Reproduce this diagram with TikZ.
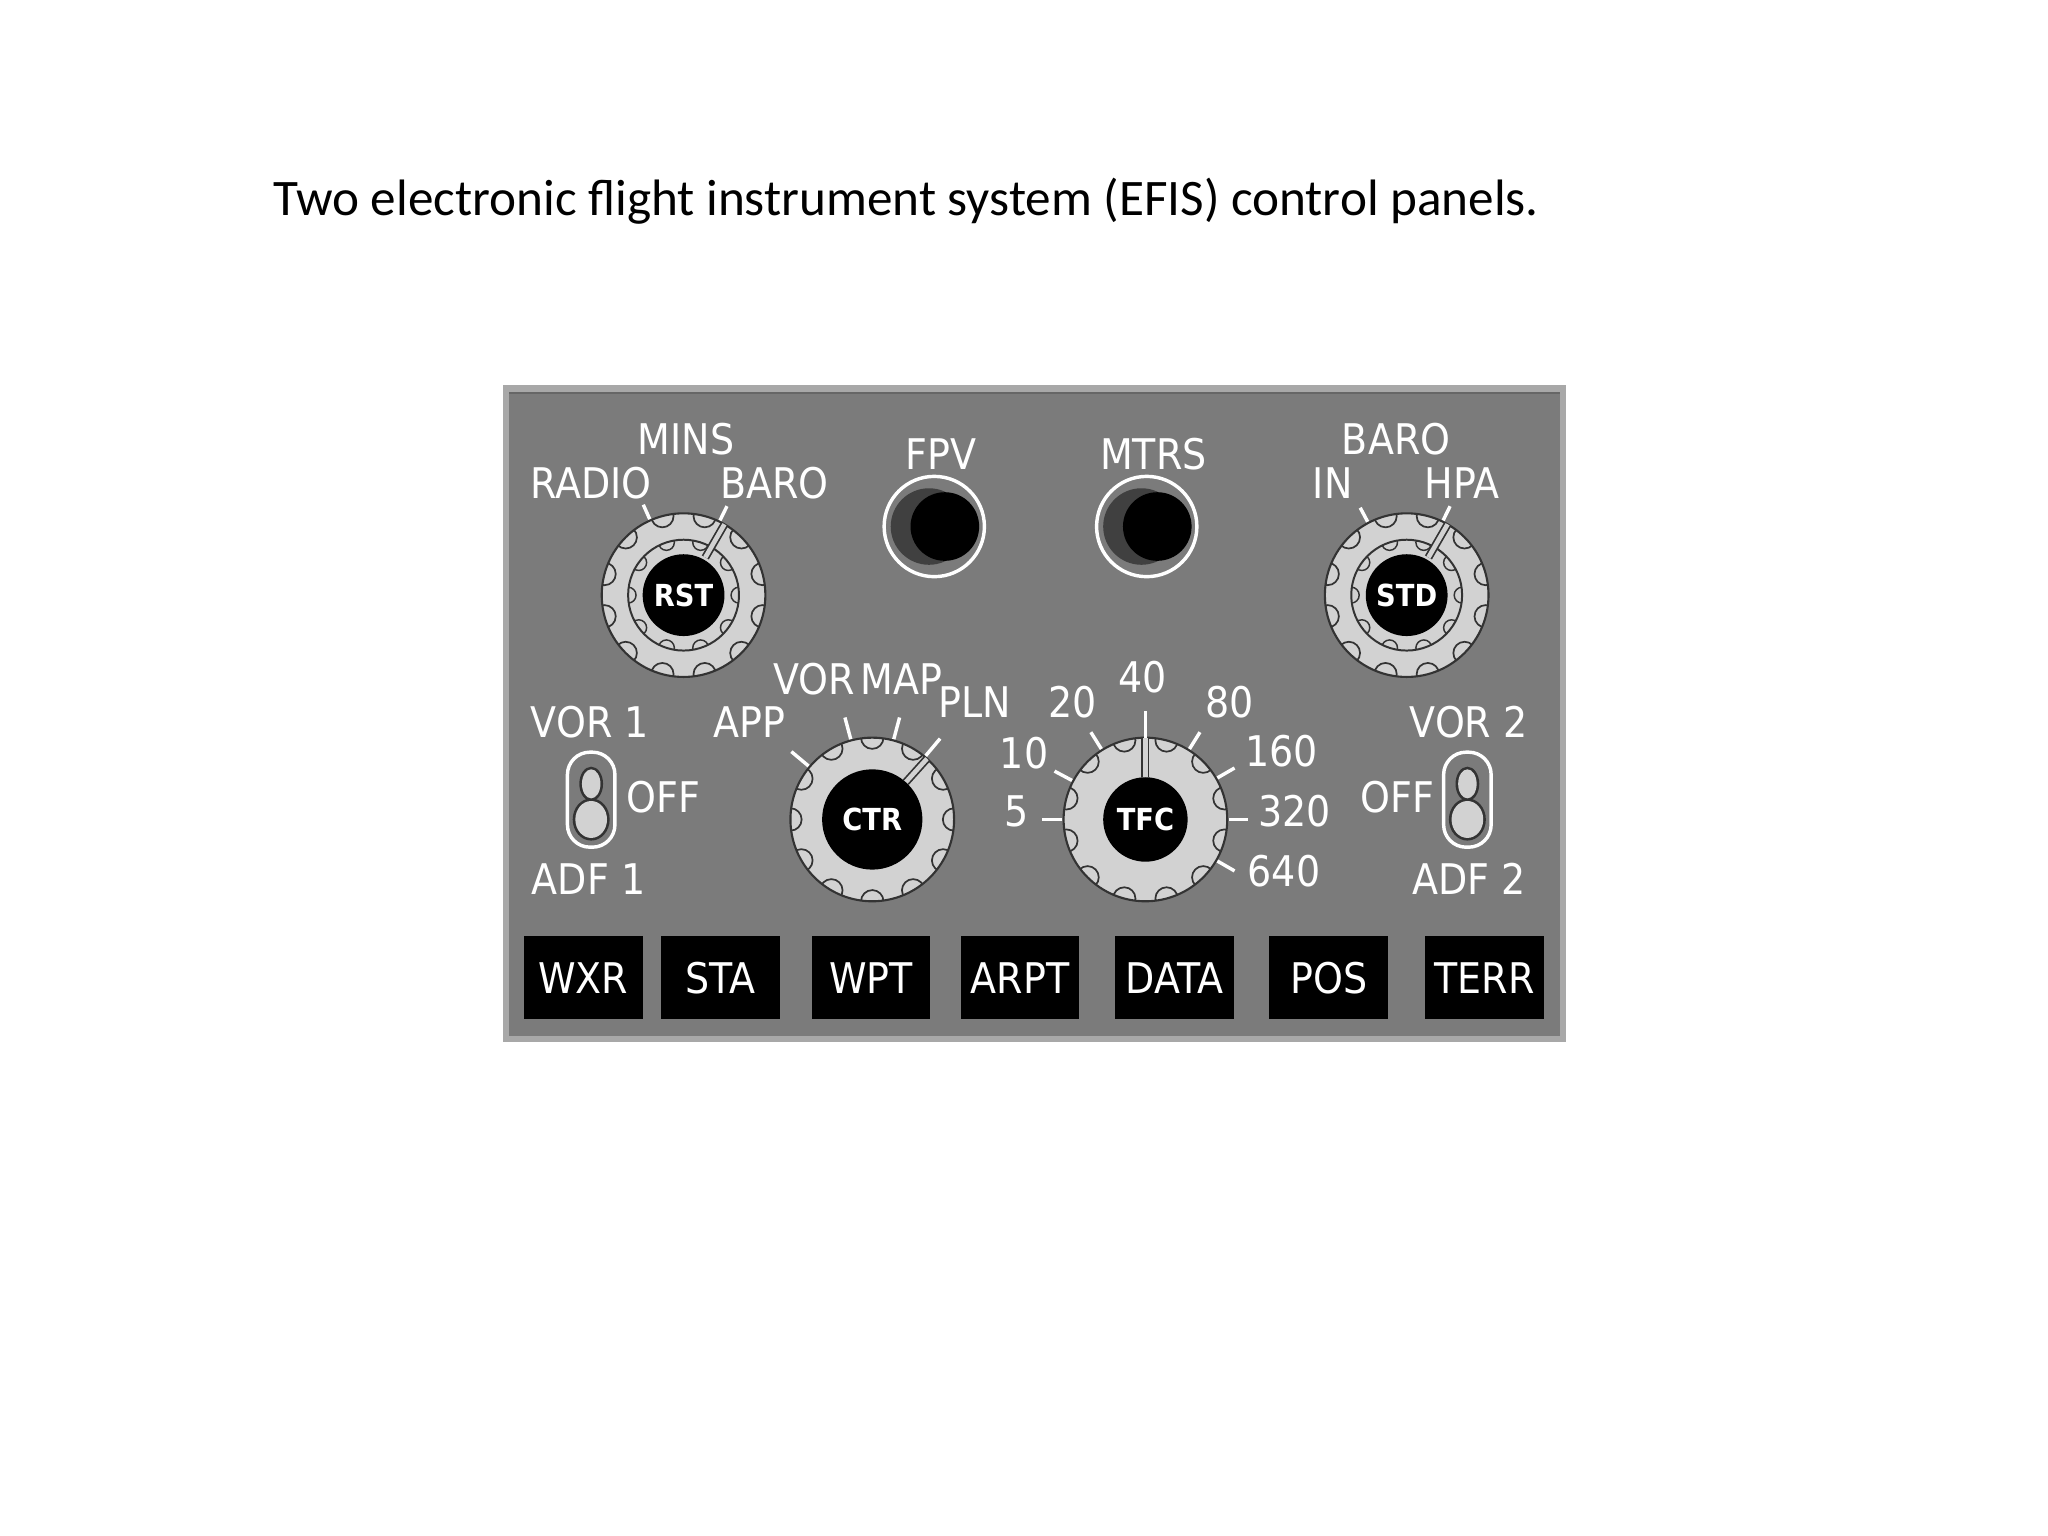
\documentclass[tikz,border=0pt]{standalone}
\usepackage{fontspec}
\setmainfont{Carlito}
\newfontfamily\din{DejaVu Sans Condensed}
\usetikzlibrary{calc}
\definecolor{panel}{HTML}{7B7B7B}
\definecolor{rim}{HTML}{A8A8A8}
\definecolor{knobc}{HTML}{D2D2D2}
\definecolor{edge}{HTML}{333333}
\tikzset{
 lbl/.style={text=white,font=\din\fontsize{32}{33}\selectfont,inner sep=0},
 ticky/.style={white,line width=2.6pt},
 btn/.style={fill=black,minimum width=90pt,minimum height=63pt,inner sep=0,text=white,font=\din\fontsize{32}{33}\selectfont},
 knobface/.style={circle,fill=knobc,draw=edge,line width=1.6pt,inner sep=0},
 knobcap/.style={circle,fill=black,inner sep=0,text=white,font=\din\bfseries\fontsize{23}{24}\selectfont},
 notch/.style={edge,line width=1.3pt},
 pointer/.style={edge,line width=1.3pt,double=knobc,double distance=3.5pt},
 toggle/.style={draw=white,line width=2.6pt,rounded corners=17pt}
}
\newcommand\drawknob[6]{% name,x,y,R,notch angles,cap radius
 \node[knobface,minimum size={2*#4}] (#1) at (#2,#3) {};
 \begin{scope}
  \clip (#2,#3) circle (#4);
  \foreach \a in {#5} \draw[notch] ([shift={(#2,#3)}]\a:#4) circle (8.5);
 \end{scope}
}
\begin{document}
\begin{tikzpicture}[x=1pt,y=1pt]
\useasboundingbox (0,0) rectangle (1552,-1164);
\fill[white] (0,0) rectangle (1552,-1164);
\node[anchor=base west,inner sep=0,font=\fontsize{38.8}{44}\selectfont] (title) at (207,-163) {Two electronic flight instrument system (EFIS) control panels.};
% panel
\fill[rim] (381,-292) rectangle (1187,-790);
\fill[panel] (386,-297) rectangle (1182,-785);
\draw[black!60,line width=1.5pt] (386,-298) -- (1182,-298);
% ---- RST knob
\drawknob{rstk}{518}{-451}{62}{15,45,75,105,135,165,195,225,255,285,315,345}{31}
\draw[edge,line width=1.5pt] (518,-451) circle (42);
\begin{scope}
 \clip (518,-451) circle (42);
 \foreach \a in {0,36,...,324} \draw[notch,line width=1.1pt] ([shift={(518,-451)}]\a:42) circle (6);
\end{scope}
\draw[pointer] ([shift={(518,-451)}]60:33) -- ([shift={(518,-451)}]60:62);
\node[knobcap,minimum size=62pt] (rst) at (518,-451) {RST};
\draw[ticky] ([shift={(518,-451)}]114:63) -- ([shift={(518,-451)}]114:75);
\draw[ticky] ([shift={(518,-451)}]64:63) -- ([shift={(518,-451)}]64:75);
\node[lbl] (mins) at (520,-333) {MINS};
\node[lbl] (radio) at (448,-366) {RADIO};
\node[lbl] (baro1) at (587,-366) {BARO};
% ---- STD knob
\drawknob{stdk}{1066}{-451}{62}{15,45,75,105,135,165,195,225,255,285,315,345}{31}
\draw[edge,line width=1.5pt] (1066,-451) circle (42);
\begin{scope}
 \clip (1066,-451) circle (42);
 \foreach \a in {0,36,...,324} \draw[notch,line width=1.1pt] ([shift={(1066,-451)}]\a:42) circle (6);
\end{scope}
\draw[pointer] ([shift={(1066,-451)}]60:33) -- ([shift={(1066,-451)}]60:62);
\node[knobcap,minimum size=62pt] (std) at (1066,-451) {STD};
\draw[ticky] ([shift={(1066,-451)}]118:63) -- ([shift={(1066,-451)}]118:75);
\draw[ticky] ([shift={(1066,-451)}]64:63) -- ([shift={(1066,-451)}]64:75);
\node[lbl] (baro2) at (1058,-333) {BARO};
\node[lbl] (in) at (1010,-366) {IN};
\node[lbl] (hpa) at (1108,-366) {HPA};
% ---- FPV / MTRS
\node[circle,draw=white,line width=2.6pt,minimum size=76pt,inner sep=0] (fpvring) at (708,-399) {};
\fill[black!75] (704,-399) circle (29);
\node[circle,fill=black,minimum size=52pt,inner sep=0] (fpvbtn) at (716,-399) {};
\node[lbl] (fpv) at (713,-344) {FPV};
\node[circle,draw=white,line width=2.6pt,minimum size=76pt,inner sep=0] (mtrsring) at (869,-399) {};
\fill[black!75] (865,-399) circle (29);
\node[circle,fill=black,minimum size=52pt,inner sep=0] (mtrsbtn) at (877,-399) {};
\node[lbl] (mtrs) at (874,-344) {MTRS};
% ---- CTR knob
\drawknob{ctrk}{661}{-621}{62}{0,30,60,90,120,150,180,210,240,270,300,330}{38}
\draw[pointer] ([shift={(661,-621)}]48:38) -- ([shift={(661,-621)}]48:62);
\node[knobcap,minimum size=76pt] (ctr) at (661,-621) {CTR};
\foreach \a in {140,105,75,50} \draw[ticky] ([shift={(661,-621)}]\a:63) -- ([shift={(661,-621)}]\a:80);
\node[lbl] (app) at (568,-547) {APP};
\node[lbl] (vor) at (617,-515) {VOR};
\node[lbl] (map) at (683,-515) {MAP};
\node[lbl] (pln) at (739,-532) {PLN};
% ---- TFC knob
\drawknob{tfck}{868}{-621}{62}{15,45,75,105,135,165,195,225,255,285,315,345}{32}
\draw[pointer] ([shift={(868,-621)}]90:32) -- ([shift={(868,-621)}]90:62);
\draw[ticky] ([shift={(868,-621)}]90:62) -- ([shift={(868,-621)}]90:82);
\node[knobcap,minimum size=64pt] (tfc) at (868,-621) {TFC};
\foreach \a in {180,152,122,58,30,0,-30} \draw[ticky] ([shift={(868,-621)}]\a:63) -- ([shift={(868,-621)}]\a:78);
\node[lbl] (r5) at (770,-615) {5};
\node[lbl] (r10) at (776,-571) {10};
\node[lbl] (r20) at (813,-532) {20};
\node[lbl] (r40) at (866,-513) {40};
\node[lbl] (r80) at (932,-532) {80};
\node[lbl] (r160) at (971,-569) {160};
\node[lbl] (r320) at (981,-615) {320};
\node[lbl] (r640) at (973,-660) {640};
% ---- toggles
\foreach \x/\nm in {448/tgl, 1112/tgr}{
 \draw[toggle] (\x-18,-570) rectangle (\x+18,-642);
 \fill[edge] (\x,-594) ellipse (9 and 13);
 \fill[edge] (\x,-621) ellipse (14 and 16);
 \fill[knobc] (\x,-594) ellipse (7 and 11);
 \fill[knobc] (\x,-621) ellipse (12 and 14);
 \coordinate (\nm) at (\x,-606);
}
\node[lbl] (vor1) at (447,-547) {VOR 1};
\node[lbl] (off1) at (503,-604) {OFF};
\node[lbl] (adf1) at (446,-666) {ADF 1};
\node[lbl] (vor2) at (1113,-547) {VOR 2};
\node[lbl] (off2) at (1059,-604) {OFF};
\node[lbl] (adf2) at (1113,-666) {ADF 2};
% ---- buttons
\node[btn] (wxr) at (442,-741) {WXR};
\node[btn] (sta) at (546,-741) {STA};
\node[btn] (wpt) at (660,-741) {WPT};
\node[btn] (arpt) at (773,-741) {ARPT};
\node[btn] (data) at (890,-741) {DATA};
\node[btn] (pos) at (1007,-741) {POS};
\node[btn] (terr) at (1125,-741) {TERR};
\end{tikzpicture}
\end{document}
